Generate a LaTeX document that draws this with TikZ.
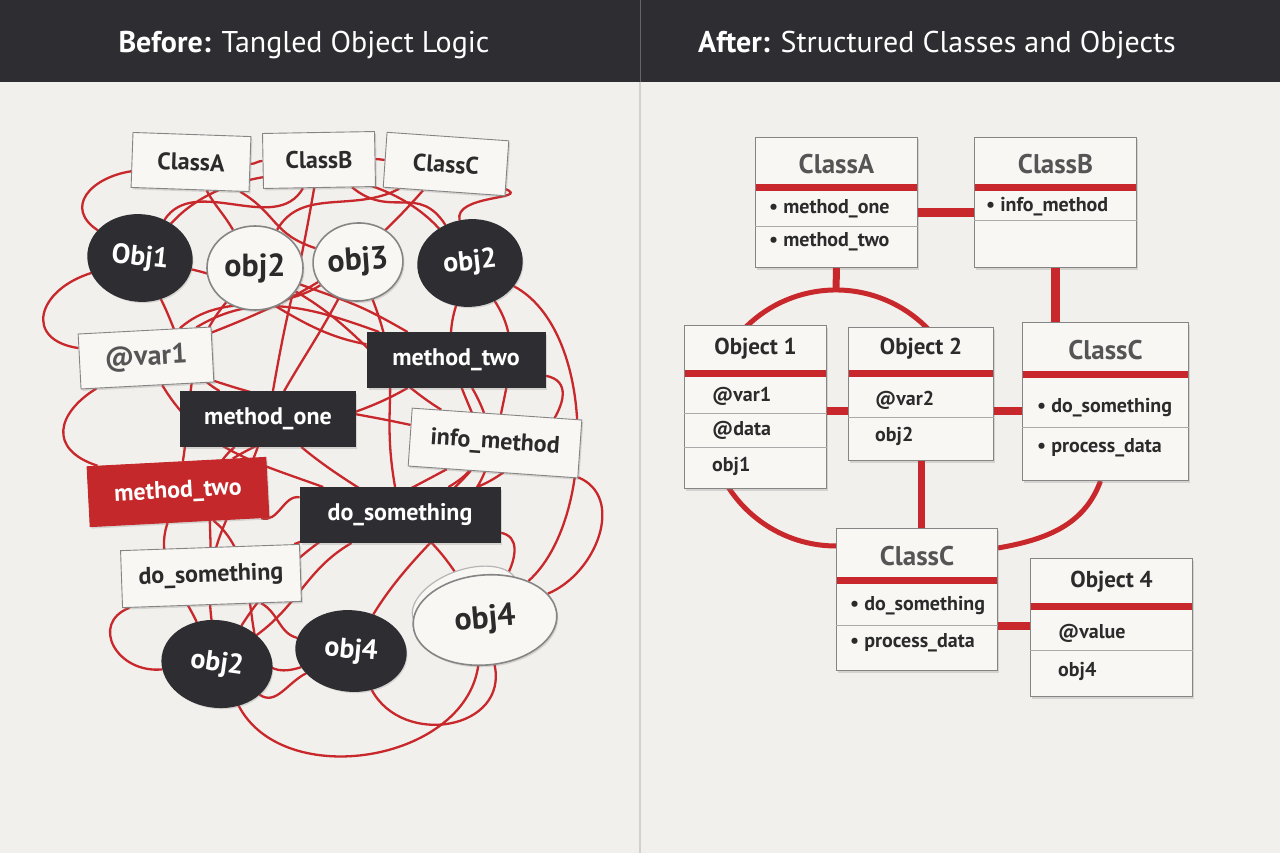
\documentclass[tikz,border=0pt]{standalone}
\usepackage{fontspec}
\setmainfont{PT Sans}
\usetikzlibrary{shapes.geometric,shadows,calc}

\definecolor{coal}{HTML}{2E2D32}
\definecolor{thread}{HTML}{C8282B}
\definecolor{alarm}{HTML}{C4282A}
\definecolor{paper}{HTML}{F8F7F4}
\definecolor{ground}{HTML}{F2F0EC}
\definecolor{boxline}{HTML}{858585}
\definecolor{ink}{HTML}{2B2B2B}
\definecolor{slate}{HTML}{555555}

\pgfdeclarelayer{back}
\pgfdeclarelayer{wires}
\pgfsetlayers{back,wires,main}

\newcommand{\sz}[1]{\fontsize{#1}{#1}\selectfont}

% one class / object card on the right
\newcommand{\umlbox}[7]{%
  \node[umlframe, minimum width=#3pt, minimum height=#4pt, anchor=north west] (#1) at #2 {};
  \node[#6] (#1-t) at ([yshift=-#7pt+24pt]#1.north) {#5};
  \draw[bar] ([xshift=1pt,yshift=-#7pt]#1.north west) -- ([xshift=-1pt,yshift=-#7pt]#1.north east);
}
\newcommand{\umlrow}[4]{\node[row] at ([xshift=#2pt,yshift=-#3pt]#1.north west) {#4};}
\newcommand{\umlsep}[2]{\draw[sep] ([yshift=-#2pt]#1.north west) -- ([yshift=-#2pt]#1.north east);}

\tikzset{
  softshadow/.style={drop shadow={shadow xshift=1.5pt, shadow yshift=-2pt, opacity=0.25}},
  thread/.style={draw=thread, line width=2.3pt},
  tag/.style={rectangle, draw=boxline, line width=0.9pt, fill=paper, text=ink,
    font=\bfseries\sz{24}, minimum height=55pt, inner xsep=0pt, softshadow},
  darktag/.style={tag, draw=coal, fill=coal, text=white},
  redtag/.style={tag, draw=alarm, fill=alarm, text=white},
  blob/.style={ellipse, draw=boxline, line width=1.6pt, fill=paper, text=ink,
    font=\bfseries\sz{32}, inner sep=0pt, softshadow},
  darkblob/.style={blob, draw=coal, fill=coal, text=white, font=\bfseries\sz{28}},
  umlframe/.style={rectangle, draw=boxline, line width=1pt, fill=paper, inner sep=0pt, softshadow},
  umltitle/.style={font=\bfseries\sz{27}, text=slate},
  objtitle/.style={font=\bfseries\sz{23}, text=ink},
  row/.style={anchor=west, font=\bfseries\sz{20}, text=ink, inner sep=0pt},
  bar/.style={draw=thread, line width=7pt},
  sep/.style={draw=boxline!70, line width=0.8pt},
  link/.style={draw=thread, line width=9pt},
  ring/.style={draw=thread, line width=5pt},
}

\begin{document}
\begin{tikzpicture}[x=1pt, y=1pt]
\useasboundingbox (0,0) rectangle (1280,-853);

\begin{pgfonlayer}{back}
  \fill[ground] (0,0) rectangle (1280,-853);
  \fill[coal] (0,0) rectangle (1280,-82);
  \draw[black!18, line width=1.5pt] (640,-82) -- (640,-853);
  \draw[black!60, line width=1pt] (640,0) -- (640,-82);
\end{pgfonlayer}

% headers
\node[font=\sz{30}, text=white] (ltitle) at (304,-45) {\textbf{Before:} Tangled Object Logic};
\node[font=\sz{30}, text=white] (rtitle) at (937,-45) {\textbf{After:} Structured Classes and Objects};

% ---- before: the tangle
\node[tag, minimum width=118pt, rotate=-2] (lca) at (191,-162) {ClassA};
\node[tag, minimum width=112pt, rotate=1] (lcb) at (319,-160) {ClassB};
\node[tag, minimum width=122pt, rotate=-4] (lcc) at (446,-164) {ClassC};
\node[darkblob, minimum width=104pt, minimum height=86pt, rotate=-6] (lo1) at (140,-258) {Obj1};
\node[blob, minimum width=96pt, minimum height=84pt] (lo2) at (255,-268) {obj2};
\node[blob, minimum width=90pt, minimum height=78pt, rotate=4] (lo3) at (358,-262) {obj3};
\node[darkblob, minimum width=104pt, minimum height=86pt, rotate=6] (lo2d) at (470,-263) {obj2};
\node[tag, minimum width=133pt, rotate=3, text=slate, font=\bfseries\sz{28}] (lvar) at (146,-358) {@var1};
\node[darktag, minimum width=178pt] (lmt) at (456,-360) {method\_two};
\node[darktag, minimum width=175pt] (lmo) at (268,-419) {method\_one};
\node[tag, minimum width=170pt, minimum height=58pt, rotate=-4] (linfo) at (495,-443) {info\_method};
\node[redtag, minimum width=179pt, minimum height=60pt, rotate=3] (lmtr) at (178,-492) {method\_two};
\node[darktag, minimum width=200pt] (lds) at (400,-515) {do\_something};
\node[tag, minimum width=179pt, minimum height=57pt, rotate=2] (ldw) at (211,-576) {do\_something};
\node[darkblob, minimum width=110pt, minimum height=86pt, rotate=-8] (lo2b) at (217,-664) {obj2};
\node[darkblob, minimum width=110pt, minimum height=80pt, rotate=-5] (lo4d) at (351,-651) {obj4};
\node[blob, draw=boxline!60, line width=1.2pt, minimum width=110pt, minimum height=60pt, rotate=20] (ghost) at (465,-600) {};
\node[blob, minimum width=144pt, minimum height=90pt, rotate=5] (lo4w) at (485,-620) {obj4};

\begin{pgfonlayer}{wires}
\foreach \a/\b/\o/\i/\l in {
  lca/lo1/190/150/1.6, lca/lo2/-60/120/1, lca/lo3/-30/160/1.2, lca/lcb/0/180/1,
  lcb/lcc/0/180/1, lcb/lo1/-120/60/1, lcb/lo2d/-40/120/1.3, lcb/lmo/-100/80/1.5,
  lcc/lo2/-150/60/1, lcc/lo2d/-20/100/1.2, lcc/lvar/-130/20/1, lo1/lo2d/50/130/0.9,
  lo1/lmo/-60/150/1, lo1/lvar/-160/170/1.8, lo1/lmt/-10/170/1, lo2/linfo/-30/150/1,
  lo2/lmtr/-130/80/1, lo3/lmo/-120/60/1, lo3/lds/-70/100/1.2, lo2d/linfo/-60/80/1,
  lo2d/lds/-110/30/1.3, lo2d/lo4w/-30/40/0.8, lvar/linfo/-20/170/1, lvar/lmtr/-150/160/1.6,
  lvar/lds/-60/160/1, lvar/lmt/30/160/1, lmt/lmtr/-150/30/1, lmt/lo4d/-60/60/1.2,
  lmt/lds/-10/20/1, lmo/ldw/-140/90/1, lmo/lo4w/-40/120/1, linfo/lo2b/-150/60/1,
  linfo/ldw/-130/20/1.2, linfo/lo4w/-20/20/1.2, lmtr/lds/-20/170/1, lmtr/lo2b/-110/120/1,
  ldw/lo4d/-30/170/1, ldw/lo2b/-160/-170/1.8, lds/lo4w/-10/60/1.2, lds/lo2b/-150/40/1,
  lo2b/lo4w/-60/-100/1, lo4d/lo4w/-60/-80/1.3, lo2b/lo4d/-30/-150/1, lmtr/lo4d/-40/-160/1.2,
  lo3/lvar/-150/40/1, lo2/lmt/-20/150/1.2, lmo/lo2b/-110/100/1.1}
  \draw[thread] (\a) to[out=\o, in=\i, looseness=\l] (\b);
\end{pgfonlayer}

% ---- after: the cards
\umlbox{ca}{(755,-137)}{162}{130}{ClassA}{umltitle}{51}
\umlrow{ca}{14}{72}{• method\_one}
\umlsep{ca}{89}
\umlrow{ca}{14}{105}{• method\_two}

\umlbox{cb}{(974,-137)}{162}{130}{ClassB}{umltitle}{51}
\umlrow{cb}{12}{70}{• info\_method}
\umlsep{cb}{83}

\umlbox{o1}{(684,-325)}{142}{163}{Object 1}{objtitle}{48}
\umlrow{o1}{28}{71}{@var1}
\umlsep{o1}{88}
\umlrow{o1}{28}{105}{@data}
\umlsep{o1}{122}
\umlrow{o1}{28}{141}{obj1}

\umlbox{o2}{(848,-327)}{145}{133}{Object 2}{objtitle}{46}
\umlrow{o2}{27}{73}{@var2}
\umlsep{o2}{90}
\umlrow{o2}{27}{109}{obj2}

\umlbox{crc}{(1022,-322)}{166}{158}{ClassC}{umltitle}{52}
\umlrow{crc}{15}{86}{• do\_something}
\umlsep{crc}{105}
\umlrow{crc}{15}{126}{• process\_data}

\umlbox{cc2}{(836,-528)}{161}{142}{ClassC}{umltitle}{52}
\umlrow{cc2}{14}{78}{• do\_something}
\umlsep{cc2}{97}
\umlrow{cc2}{14}{115}{• process\_data}

\umlbox{o4}{(1030,-558)}{162}{138}{Object 4}{objtitle}{48}
\umlrow{o4}{28}{75}{@value}
\umlsep{o4}{92}
\umlrow{o4}{28}{113}{obj4}

\coordinate (hub) at (836,-418);
\begin{pgfonlayer}{wires}
  \draw[ring] ($(hub)+(20:128)$) arc[start angle=20, end angle=270, radius=128];
  \draw[ring] ([xshift=-5pt]crc.south) to[out=-110, in=10] ([yshift=-20pt]cc2.north east);
\end{pgfonlayer}
\draw[link, line width=7pt] (ca.south) -- ($(hub)+(0,128)$);
\draw[link] ([yshift=-76pt]ca.north east) -- ([yshift=-76pt]cb.north west);
\draw[link] (cb.south) -- (cb.south |- crc.north);
\draw[link, line width=8pt] ([yshift=-86pt]o1.north east) -- ([yshift=-84pt]o2.north west);
\draw[link, line width=8pt] ([yshift=-84pt]o2.north east) -- ([yshift=-89pt]crc.north west);
\draw[link, line width=7pt] (o2.south) -- (o2.south |- cc2.north);
\draw[link, line width=8pt] ([yshift=-98pt]cc2.north east) -- ([yshift=-68pt]o4.north west);
\end{tikzpicture}
\end{document}
